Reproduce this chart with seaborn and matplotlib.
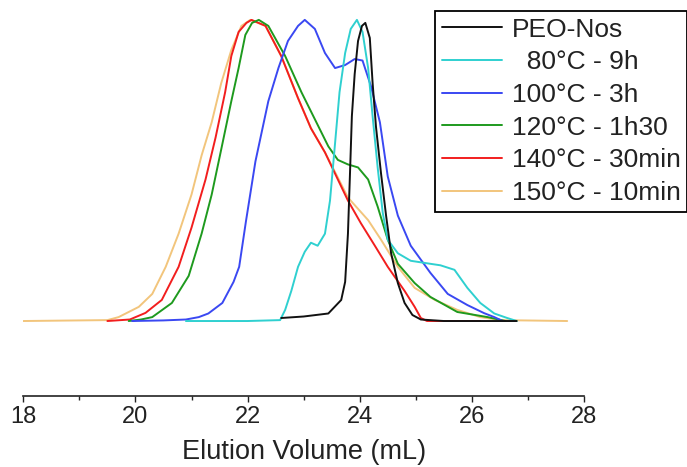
import numpy as np
import pandas as pd
import seaborn as sns
import matplotlib.pyplot as plt
from matplotlib.ticker import MultipleLocator

# GPC traces, normalised to peak height 1
labels = ["PEO-Nos", "  80°C - 9h", "100°C - 3h", "120°C - 1h30", "140°C - 30min", "150°C - 10min"]
colors = ["#111111", "#2fd0d0", "#3a48f2", "#1e9a1e", "#f21e1e", "#f2c57c"]

peo_x = [22.6, 23.0, 23.44, 23.67, 23.74, 23.79, 23.83, 23.86, 23.91, 23.97, 24.04, 24.1,
         24.18, 24.23, 24.29, 24.38, 24.47, 24.56, 24.68, 24.8, 24.94, 25.09, 25.5, 26.8]
peo_y = [0.01, 0.015, 0.025, 0.07, 0.13, 0.29, 0.51, 0.68, 0.82, 0.93, 0.98, 0.99,
         0.94, 0.79, 0.645, 0.49, 0.35, 0.225, 0.126, 0.06, 0.02, 0.005, 0.0, 0.0]

c80_x = [20.9, 22.0, 22.58, 22.67, 22.78, 22.9, 23.02, 23.13, 23.25, 23.38, 23.47, 23.56,
         23.64, 23.74, 23.84, 23.95, 24.05, 24.15, 24.23, 24.32, 24.41, 24.5, 24.68, 24.91,
         25.26, 25.44, 25.69, 25.92, 26.15, 26.4, 26.63, 26.8]
c80_y = [0.0, 0.0, 0.003, 0.037, 0.10, 0.18, 0.23, 0.26, 0.25, 0.29, 0.40, 0.59,
         0.76, 0.89, 0.97, 1.0, 0.96, 0.84, 0.68, 0.51, 0.36, 0.27, 0.225, 0.20,
         0.19, 0.185, 0.17, 0.11, 0.06, 0.025, 0.01, 0.0]

c100_x = [19.94, 20.5, 20.9, 21.13, 21.3, 21.55, 21.75, 21.85, 21.97, 22.14, 22.37, 22.55,
          22.72, 22.9, 23.02, 23.2, 23.38, 23.56, 23.74, 23.91, 24.05, 24.2, 24.36, 24.5,
          24.68, 24.91, 25.26, 25.57, 25.92, 26.22, 26.4, 26.55]
c100_y = [0.0, 0.002, 0.005, 0.013, 0.025, 0.06, 0.13, 0.18, 0.33, 0.53, 0.73, 0.84,
          0.93, 0.98, 1.0, 0.97, 0.89, 0.84, 0.85, 0.87, 0.865, 0.78, 0.66, 0.48,
          0.35, 0.25, 0.16, 0.09, 0.053, 0.026, 0.013, 0.0]

c120_x = [19.88, 20.1, 20.3, 20.65, 20.95, 21.18, 21.36, 21.53, 21.71, 21.84, 21.96, 22.08,
          22.2, 22.37, 22.67, 22.96, 23.2, 23.44, 23.61, 23.79, 23.97, 24.15, 24.32, 24.5,
          24.68, 24.98, 25.26, 25.74, 26.28, 26.6]
c120_y = [0.0, 0.005, 0.013, 0.06, 0.15, 0.29, 0.42, 0.57, 0.73, 0.84, 0.95, 0.99,
          1.0, 0.98, 0.88, 0.76, 0.67, 0.58, 0.535, 0.52, 0.51, 0.47, 0.38, 0.27,
          0.19, 0.126, 0.08, 0.03, 0.013, 0.0]

c140_x = [19.5, 19.9, 20.18, 20.47, 20.77, 21.0, 21.25, 21.43, 21.6, 21.71, 21.84, 21.98,
          22.07, 22.32, 22.6, 22.9, 23.13, 23.38, 23.61, 23.79, 24.02, 24.27, 24.5, 24.8,
          24.98, 25.09, 25.2, 26.15]
c140_y = [0.0, 0.005, 0.027, 0.07, 0.18, 0.31, 0.47, 0.61, 0.76, 0.88, 0.96, 0.99,
          1.0, 0.98, 0.88, 0.74, 0.64, 0.56, 0.47, 0.40, 0.325, 0.25, 0.18, 0.10,
          0.047, 0.01, 0.0, 0.0]

c150_x = [18.0, 19.5, 19.7, 20.06, 20.3, 20.54, 20.77, 21.0, 21.18, 21.36, 21.53, 21.71,
          21.89, 22.05, 22.32, 22.6, 22.9, 23.13, 23.38, 23.6, 23.79, 24.15, 24.38, 24.68,
          24.98, 25.34, 25.74, 26.15, 26.5, 27.7]
c150_y = [0.0, 0.003, 0.013, 0.047, 0.09, 0.18, 0.29, 0.42, 0.55, 0.66, 0.79, 0.90,
          0.98, 1.0, 0.98, 0.88, 0.74, 0.64, 0.56, 0.48, 0.41, 0.335, 0.27, 0.18,
          0.11, 0.07, 0.037, 0.013, 0.003, 0.0]

xs_all = [peo_x, c80_x, c100_x, c120_x, c140_x, c150_x]
ys_all = [peo_y, c80_y, c100_y, c120_y, c140_y, c150_y]

frames = []
for name, xs, ys in zip(labels, xs_all, ys_all):
    frames.append(pd.DataFrame({"volume": xs, "signal": ys, "sample": name}))
df = pd.concat(frames, ignore_index=True)

sns.set_style("white")
plt.rcParams["font.family"] = ["Liberation Sans", "DejaVu Sans"]

fig = plt.figure(figsize=(6.87, 4.67), dpi=100)
ax = fig.add_axes([23.3 / 687, 1 - 396 / 467, (584 - 23.3) / 687, 396 / 467])

sns.lineplot(data=df, x="volume", y="signal", hue="sample", hue_order=labels[::-1],
             palette=dict(zip(labels, colors)), estimator=None, sort=False,
             linewidth=1.4, ax=ax)

ax.set_xlim(18, 28)
ax.set_ylim(-0.249, 1.066)
ax.set_yticks([])
ax.set_ylabel("")
ax.set_xlabel("Elution Volume (mL)", fontsize=19.5, color="#222222", labelpad=8)
ax.xaxis.set_major_locator(MultipleLocator(2))
ax.xaxis.set_minor_locator(MultipleLocator(1))
ax.tick_params(axis="x", which="major", direction="out", length=4, width=1,
               labelsize=17, pad=3, colors="#222222", bottom=True)
ax.tick_params(axis="x", which="minor", direction="out", length=3, width=1, bottom=True)
for side in ["left", "top", "right"]:
    ax.spines[side].set_visible(False)
ax.spines["bottom"].set_color("#222222")
ax.spines["bottom"].set_linewidth(1.2)

handles, names = ax.get_legend_handles_labels()
lookup = dict(zip(names, handles))
leg = ax.legend([lookup[n] for n in labels], labels, loc="upper left",
                bbox_to_anchor=(435 / 687, 1 - 11 / 467), bbox_transform=fig.transFigure,
                borderaxespad=0, fontsize=19, frameon=True, fancybox=False,
                edgecolor="black", framealpha=1, borderpad=0.25, labelspacing=0.33,
                handlelength=2.3, handletextpad=0.35)
leg.get_frame().set_linewidth(1.3)
for t in leg.get_texts():
    t.set_color("#222222")

fig.savefig("out.png", dpi=100)
